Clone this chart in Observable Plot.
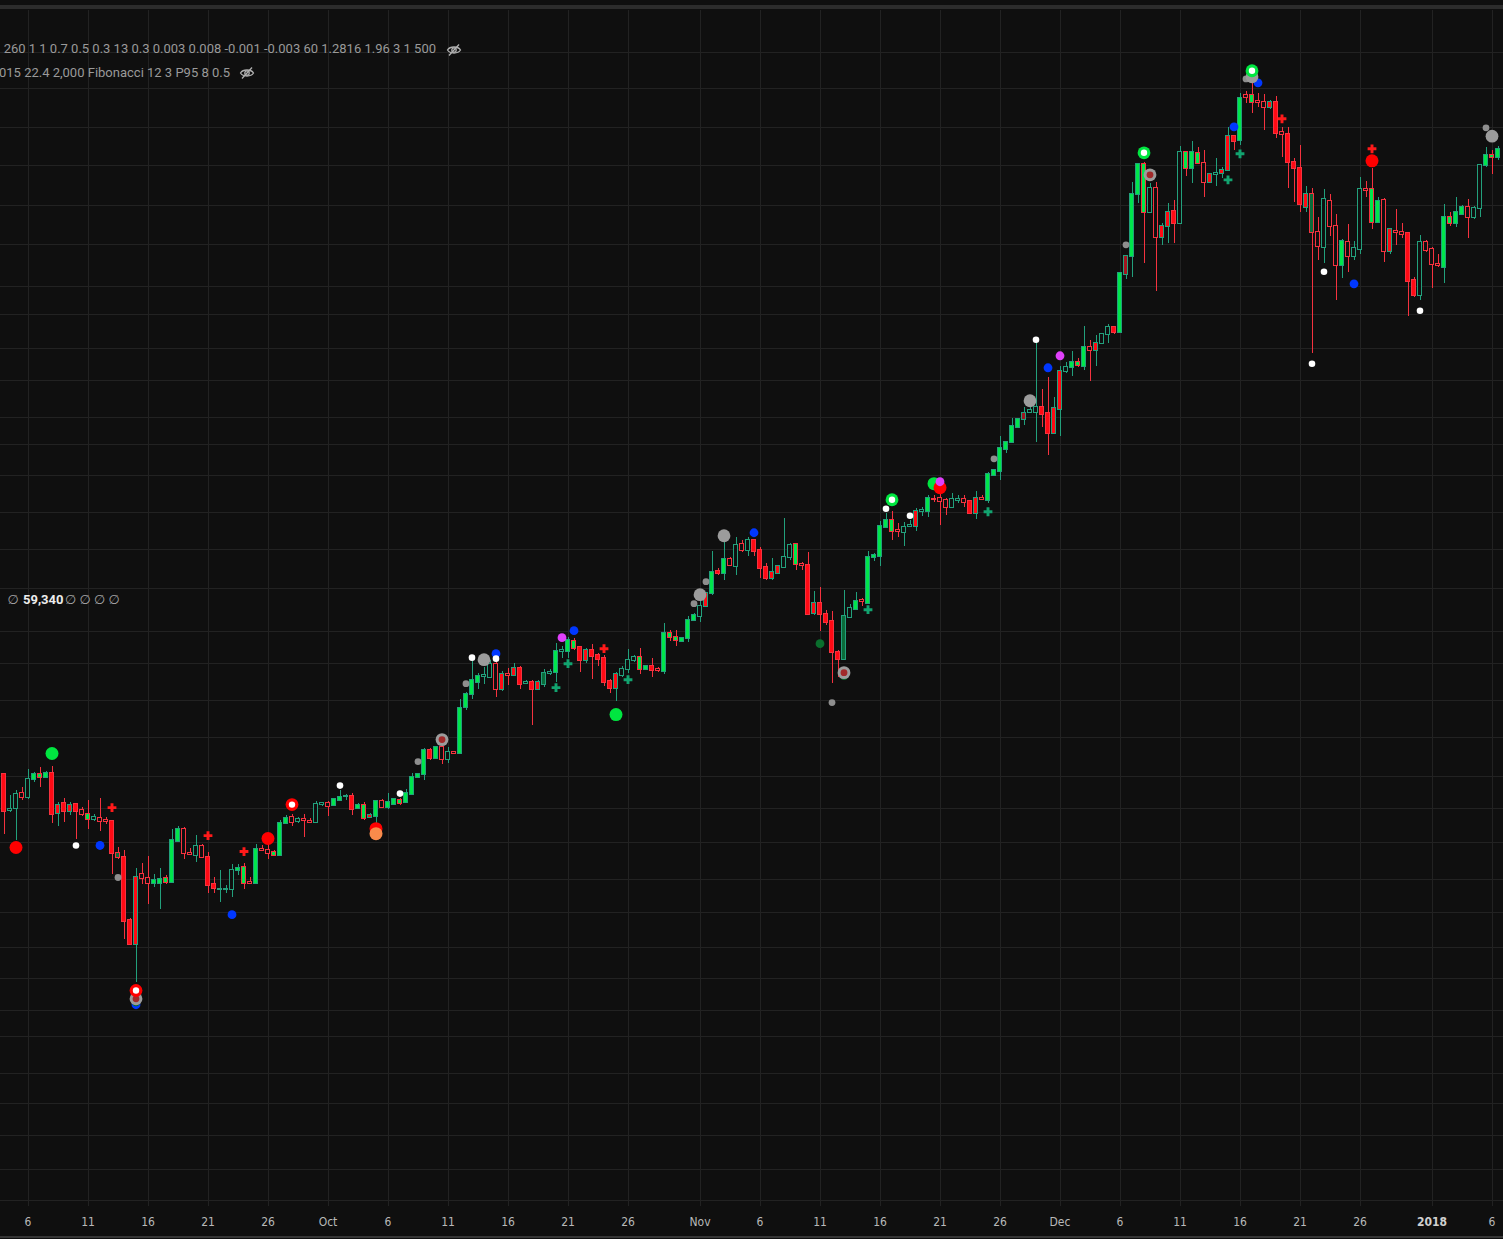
<!DOCTYPE html>
<html>
<head>
<meta charset="utf-8">
<script src="https://cdn.jsdelivr.net/npm/d3@7"></script>
<script src="https://cdn.jsdelivr.net/npm/@observablehq/plot@0.6"></script>
<style>
  html, body { margin: 0; padding: 0; background: #0f0f0f; }
  #wrap { position: relative; width: 1503px; height: 1239px; overflow: hidden; background: #0f0f0f; }
  #chart { position: absolute; left: 0; top: 0; }
  .sep-top { position: absolute; left: 0; top: 5px; width: 1503px; height: 4px; background: #2c2c2c; }
  .sep-bot { position: absolute; left: 0; top: 1236px; width: 1503px; height: 2px; background: #353535; }
  .leg { position: absolute; font-family: Roboto, "Noto Sans", sans-serif; font-size: 13px; color: #9a9a9a; white-space: pre; line-height: 16px; }
  .legr { text-align: right; }
  .val { position: absolute; font-family: Roboto, "Noto Sans", sans-serif; font-size: 13px; color: #a6a6a6; white-space: pre; line-height: 16px; }
  .val b { color: #ececec; font-weight: 700; }
  .na { display: inline-block; width: 14.5px; text-align: center; font-family: "DejaVu Sans", sans-serif; font-size: 13px; color: #a6a6a6; }
  .eye { position: absolute; width: 16px; height: 14px; }
</style>
</head>
<body>
<div id="wrap">
  <div id="chart"></div>
  <div class="sep-top"></div>
  <div class="sep-bot"></div>
</div>
<script>
// ---------------- data ----------------
// 12-hour candles starting 2017-09-04 00:00 UTC
const startUTC = Date.UTC(2017, 8, 4);
const open = [
4620,4280,4300,4437,4400,4570,4618,4589,4628,4252,
4343,4270,4334,4279,4243,4198,4207,4189,4180,3907,
3874,3389,3221,3736,3705,3666,3666,3705,3674,4007,
4111,3907,3890,3965,3874,3658,3618,3618,3620,3769,
3793,3674,3666,3940,3932,3915,3890,4163,4216,4180,
4198,4180,4172,4334,4343,4324,4371,4405,4408,4297,
4324,4216,4225,4362,4306,4334,4371,4352,4427,4589,
4618,4860,4778,4891,4768,4839,4829,5323,5472,5613,
5685,5673,5831,5530,5709,5697,5782,5600,5613,5530,
5589,5721,5733,5994,5994,6122,6045,5880,6006,5943,
5905,5625,5542,5697,5770,5880,5918,5770,5806,5770,
5745,6227,6174,6122,6161,6400,6455,6594,6778,7101,
7071,7284,7177,7520,7425,7583,7425,7162,6996,7071,
7162,7315,7520,7207,7192,6496,6636,6483,6387,5981,
5893,6441,6552,6678,6636,7315,7331,7796,7912,7746,
7713,7812,7812,8075,8065,8280,8290,8255,8133,8255,
8272,8237,8030,8290,8255,8703,8778,9196,9334,9636,
9800,9950,9947,10053,9926,9514,10011,10850,10942,11059,
10966,11416,11344,11514,11735,11911,11785,13327,13846,15791,
16829,15200,15993,14415,14755,15233,14849,17262,16686,17225,
16864,16198,16476,16511,16616,17858,17707,19481,19481,19235,
19193,18990,19193,18010,17934,16900,16686,15362,15791,14569,
14113,15558,14755,13584,14263,13846,14053,15959,15959,14881,
15591,13994,14600,14569,14538,13159,12748,14263,14053,13613,
13527,15040,14849,15136,15362,15040,15330,16793,17153,17080
];
const high = [
4630,4420,4465,4493,4668,4638,4688,4648,4698,4352,
4390,4352,4340,4306,4371,4243,4390,4216,4189,3957,
3932,3403,3785,3825,3882,3736,3785,3728,4111,4137,
4128,3948,4058,3982,3915,3712,3769,3651,3817,3817,
3825,3712,3982,3974,3982,3932,4189,4234,4243,4216,
4243,4207,4362,4345,4362,4390,4465,4427,4437,4343,
4352,4252,4371,4380,4437,4390,4390,4474,4628,4628,
4880,4880,4901,4922,4891,4850,5414,5495,5868,5721,
5794,5880,5880,5745,5782,5844,5806,5637,5637,5637,
5770,5770,6096,6057,6174,6161,6057,6032,6083,5968,
5943,5649,5733,5806,6019,5943,6032,5819,5905,5794,
6360,6267,6267,6174,6455,6496,6678,6785,7409,7147,
7552,7315,7632,7583,7632,7599,7472,7223,7300,7192,
7945,7536,7536,7238,7393,6807,6865,6538,6524,6006,
6821,6622,6792,6707,7409,7377,7895,8030,8065,7862,
7879,7912,8116,8133,8343,8343,8396,8290,8378,8343,
8343,8240,8414,8343,8759,8815,9453,9354,9821,9821,
10053,10053,11611,10444,10713,10269,10966,11059,11320,11153,
11936,11587,11710,11740,11987,11920,13360,13875,16198,16840,
16900,16164,16198,14849,15493,15591,17483,17270,17670,17446,
17335,16511,17044,16722,18202,17860,19563,19647,19983,19563,
19522,19275,19439,18202,18202,17044,17520,16061,15993,15040,
15959,15791,15136,14354,14818,14294,16371,16233,16686,15691,
15658,14693,15297,14849,14540,13243,14477,14324,14113,13905,
15460,15200,15691,15428,15624,15395,16800,17446,17335,17483
];
const low = [
4070,4260,4015,4371,4380,4541,4493,4579,4163,4137,
4172,4234,4024,4225,4111,4180,4093,4154,3736,3857,
3255,3215,2972,3658,3506,3635,3469,3658,3674,4007,
3857,3890,3833,3866,3589,3589,3521,3589,3559,3728,
3620,3660,3660,3923,3857,3885,3885,4160,4137,4163,
4041,4163,4170,4315,4225,4315,4371,4371,4234,4288,
4189,4207,4146,4300,4288,4334,4324,4343,4418,4579,
4560,4758,4768,4718,4728,4819,4825,5290,5414,5530,
5589,5670,5437,5507,5577,5690,5530,5589,5124,5519,
5554,5697,5613,5905,5905,6006,5733,5844,5649,5806,
5566,5483,5391,5673,5721,5856,5709,5757,5673,5733,
5709,6122,6057,6109,6109,6387,6374,6590,6749,7041,
6967,7177,7041,7393,7331,7331,6996,6967,6967,7056,
7147,7269,7116,7116,6469,6469,6254,6334,5601,5673,
5880,6430,6538,6594,6636,7253,7177,7790,7583,7632,
7488,7796,7730,7979,7962,8220,7829,7996,8116,8203,
8133,8025,7928,8265,8203,8685,8612,9120,9330,9616,
9677,9926,9334,9636,9081,9500,9453,10804,10736,10942,
10873,10622,10966,11510,11514,11735,11780,13187,13243,15493,
13642,15190,12855,14173,14233,14233,14840,16406,16164,16860,
15691,16190,16061,16337,16610,17335,17520,19152,18751,18990,
18087,18910,17782,17080,15993,15526,15200,15200,11272,13729,
13642,14446,12613,13215,13384,13729,13905,15691,14662,14849,
13671,13905,14173,14385,12192,12694,12613,13964,12937,13527,
13075,14755,14724,15104,14385,14976,15040,16722,16476,16972
];
const close = [
4270,4290,4430,4400,4570,4618,4589,4628,4243,4324,
4270,4324,4270,4243,4198,4216,4180,4180,3907,3874,
3382,3221,3712,3705,3666,3689,3697,3674,4015,4111,
3907,3895,3965,3874,3651,3628,3622,3622,3769,3785,
3666,3666,3940,3932,3907,3890,4163,4207,4172,4198,
4189,4172,4334,4343,4315,4380,4400,4410,4288,4324,
4207,4234,4362,4306,4352,4380,4343,4437,4589,4618,
4860,4778,4891,4768,4839,4829,5312,5472,5637,5685,
5697,5831,5530,5709,5697,5782,5589,5613,5530,5613,
5721,5733,5994,6006,6135,6032,5880,6006,5930,5893,
5613,5542,5709,5770,5880,5918,5770,5806,5757,5757,
6227,6174,6135,6161,6400,6469,6594,6778,7086,7071,
7284,7192,7504,7425,7583,7409,7147,6996,7086,7177,
7315,7504,7207,7192,6483,6636,6483,6374,5981,5893,
6455,6566,6664,6664,7315,7346,7812,7912,7730,7730,
7796,7829,8065,8085,8290,8272,8237,8133,8272,8272,
8220,8030,8290,8272,8722,8797,9216,9334,9657,9800,
9926,9989,10053,9905,9514,10032,10850,10942,11059,10989,
11416,11344,11514,11735,11911,11785,13356,13846,15791,16829,
15200,15993,14415,14755,15200,14849,17262,16686,17262,16864,
16198,16476,16511,16616,17858,17670,19357,19398,19193,19193,
18990,19193,17972,17934,16900,16686,15460,15791,14569,14142,
15624,14755,13584,14294,13846,14083,15959,15926,14881,15558,
13994,14662,14569,14507,13131,12748,14263,14023,13613,13584,
15040,14849,15200,15362,15040,15330,16793,17153,17080,17372
];
// body fill per candle: G bright green, R red, g dark green, x dark red, n hollow
const bodyFill = (
"RnnnnGGGRR" + "RRRnGnnnRg" + "RRRnnGGGGG" + "nnnnRRnnnG" + "GnGnnGGGnn" +
"nnnnnGGnRG" + "GRGnGGGGGG" + "GRGnnnGGGG" + "nnnRnRRnRR" + "gnGnGGRRRR" +
"RRRnnnGGRn" + "GGGGGGnRGR" + "GnnnnRRRRR" + "nnGnRRRRRR" + "gnGnGGGGGn" +
"nnRnGnnnnn" + "nRRnGGGGGG" + "xnnRRRRnGG" + "GnRnnRGxGG" + "GnnRRRnGGG" +
"nRnRRRGnGn" + "nRRnRRRRgn" + "nnnGnnnnGG" + "nRnnRRnnnn" + "GGGGnnnGGG").split("");

// indicator markers: candle index, price level, kind
const markerIndex = [8,102,155, 2,44,62,156,228, 62,
  12,56,66,78,82,147,151,172,218,220,236,
  16,22,38,82,95,125,174,205,209,225,
  19,69,77,115,117,138,165,187,207,247,
  80,116,120,171,208,248, 93,156,176, 22,136,140, 22,48, 148,190,208, 22,73,140,191,
  18,34,40,100,213,228, 92,94,104,144,164,204,206];
const markerPrice = [4830,5245,8558, 3957,4033,4118,8486,16970, 4075,
  3974,4512,4436,5918,5906,8115,7996,11612,11036,13412,12348,
  3974,2835,3432,5968,6266,7713,10943,18240,20025,13075,
  3713,4748,5601,6636,6953,5380,9022,14203,20190,18200,
  5893,6764,7664,10204,20280,17880, 6174,8594,11225, 2853,6096,5697, 2922,4334, 8272,17262,20542, 2871,4974,5733,16475,
  4306,4058,3923,6032,18552,17410, 5554,5843,5648,6552,8064,16300,17225];
const markerKind = [
  "bigGreen","bigGreen","bigGreen",
  "bigRed","bigRed","bigRed","bigRed","bigRed",
  "orange",
  "white","white","white","white","white","white","white","white","white","white","white",
  "blue","blue","blue","blue","blue","blue","blue","blue","blue","blue",
  "gray","gray","gray","gray","gray","gray","gray","gray","gray","gray",
  "grayBig","grayBig","grayBig","grayBig","grayBig","grayBig",
  "magenta","magenta","magenta",
  "darkGreen","darkGreen","darkGreen",
  "ringRed","ringRed",
  "ringGreen","ringGreen","ringGreen",
  "ringGray","ringGray","ringGray","ringGray",
  "redCross","redCross","redCross","redCross","redCross","redCross",
  "greenCross","greenCross","greenCross","greenCross","greenCross","greenCross","greenCross"];

// horizontal grid (price levels) and time ticks
const gridPrices = [1870,2000,2150,2300,2450,2650,2800,3000,3200,3450,3700,4000,4300,4600,5000,5400,5850,6250,6850,7450,8050,8700,9300,9850,10650,11400,12250,13000,14200,15450,16800,18200,19800,21350];
const tickDates = ["2017-09-06","2017-09-11","2017-09-16","2017-09-21","2017-09-26","2017-10-01","2017-10-06","2017-10-11","2017-10-16","2017-10-21","2017-10-26","2017-11-01","2017-11-06","2017-11-11","2017-11-16","2017-11-21","2017-11-26","2017-12-01","2017-12-06","2017-12-11","2017-12-16","2017-12-21","2017-12-26","2018-01-01","2018-01-06"];
const tickLabels = ["6","11","16","21","26","Oct","6","11","16","21","26","Nov","6","11","16","21","26","Dec","6","11","16","21","26","2018","6"];

// ---------------- styles ----------------
const BG = "#0f0f0f", GRID = "#222222", UP = "#22a07c", DN = "#f5323f";
const FILL = {G: "#00e64b", R: "#ff0a14", g: "#0b6b3a", x: "#a3141f", n: BG};
const KIND = {
  blue: {r: 4.4, fill: "#0037ff"},
  darkGreen: {r: 4.4, fill: "#0a6e2d"},
  gray: {r: 3.4, fill: "#8e8e8e"},
  grayBig: {r: 6.4, fill: "#9c9c9c"},
  white: {r: 3.3, fill: "#ffffff"},
  bigGreen: {r: 6.5, fill: "#00e640"},
  bigRed: {r: 6.5, fill: "#ff0000"},
  orange: {r: 6.5, fill: "#f98b4b"},
  magenta: {r: 4.4, fill: "#e040fb"},
  ringGray: {r: 6.4, fill: "#9c9c9c", inner: "#a12a2a", ir: 3.4},
  ringRed: {r: 6.4, fill: "#ff0000", inner: "#ffffff", ir: 3.2},
  ringGreen: {r: 6.4, fill: "#00e640", inner: "#ffffff", ir: 3.2},
  redCross: {r: 3.7, fill: "#ff1a1a", symbol: "cross"},
  greenCross: {r: 3.7, fill: "#12a36f", symbol: "cross"}
};
const ORDER = ["blue","darkGreen","gray","grayBig","white","bigGreen","bigRed","orange","magenta","ringGray","ringRed","ringGreen","redCross","greenCross"];

// ---------------- build ----------------
const H = 3600 * 1000;
const candles = open.map((o, i) => ({
  t: new Date(startUTC + i * 12 * H), o, h: high[i], l: low[i], c: close[i], f: bodyFill[i] || "n"
}));
const markers = markerIndex.map((idx, i) => ({t: new Date(startUTC + idx * 12 * H), p: markerPrice[i], k: markerKind[i]}));
const ticks = tickDates.map((d, i) => ({d: new Date(d + "T00:00:00Z"), s: tickLabels[i], bold: /^\d{4}$/.test(tickLabels[i])}));

const dirColor = d => (d.c >= d.o ? UP : DN);
const marks = [
  Plot.ruleY(gridPrices, {stroke: GRID, strokeWidth: 1, shapeRendering: "crispEdges"}),
  Plot.ruleX(ticks, {x: "d", stroke: GRID, strokeWidth: 1, shapeRendering: "crispEdges"}),
  Plot.ruleX(candles, {x: "t", y1: "l", y2: "h", stroke: dirColor, strokeWidth: 1, shapeRendering: "crispEdges"}),
  Plot.rect(candles, {
    x1: d => new Date(+d.t - 4 * H), x2: d => new Date(+d.t + 4 * H),
    y1: "o", y2: "c", fill: d => FILL[d.f], stroke: dirColor, strokeWidth: 1,
    insetTop: -0.5, insetBottom: -0.5, shapeRendering: "crispEdges"
  })
];
for (const k of ORDER) {
  const s = KIND[k];
  const data = markers.filter(m => m.k === k);
  marks.push(Plot.dot(data, {x: "t", y: "p", r: s.r, fill: s.fill, stroke: "none", symbol: s.symbol || "circle"}));
  if (s.inner) marks.push(Plot.dot(data, {x: "t", y: "p", r: s.ir, fill: s.inner, stroke: "none"}));
}
const axisFont = "'Liberation Sans Narrow', 'DejaVu Sans Condensed', 'Roboto Condensed', Roboto, sans-serif";
marks.push(Plot.text(ticks.filter(d => !d.bold), {x: "d", text: "s", frameAnchor: "bottom", dy: 16, lineAnchor: "middle", fill: "#b8b8b8", fontSize: 12, fontFamily: axisFont}));
marks.push(Plot.text(ticks.filter(d => d.bold), {x: "d", text: "s", frameAnchor: "bottom", dy: 16, lineAnchor: "middle", fill: "#d0d0d0", fontSize: 12, fontWeight: "bold", fontFamily: axisFont}));

const chart = Plot.plot({
  width: 1503, height: 1239,
  marginTop: 10, marginBottom: 33, marginLeft: 0, marginRight: 0,
  style: {background: "transparent", overflow: "visible"},
  x: {type: "utc", domain: [new Date(startUTC - 7 * H), new Date(startUTC + 2999 * H)], axis: null},
  y: {type: "log", domain: [1848.3, 23342], axis: null},
  color: {type: "identity"},
  marks
});
document.getElementById("chart").appendChild(chart);

// ---------------- legend overlays ----------------
const wrap = document.getElementById("wrap");
function addDiv(cls, css, html) {
  const d = document.createElement("div");
  d.className = cls; d.style.cssText = css; d.innerHTML = html; wrap.appendChild(d); return d;
}
const eyeSVG = '<svg width="16" height="14" viewBox="0 0 16 14"><path d="M1.5 7 C4 3, 12 3, 14.5 7 C12 11, 4 11, 1.5 7 Z" fill="none" stroke="#b0b0b0" stroke-width="1.3"/><circle cx="8" cy="7" r="2.2" fill="none" stroke="#b0b0b0" stroke-width="1.3"/><line x1="3" y1="12.5" x2="13" y2="1.5" stroke="#b0b0b0" stroke-width="1.3"/></svg>';
addDiv("leg legr", "right:" + (1503 - 436) + "px; top:41px;", "260 1 1 0.7 0.5 0.3 13 0.3 0.003 0.008 -0.001 -0.003 60 1.2816 1.96 3 1 500");
addDiv("eye", "left:446px; top:43px;", eyeSVG);
addDiv("leg legr", "right:" + (1503 - 230) + "px; top:65px;", "015 22.4 2,000 Fibonacci 12 3 P95 8 0.5");
addDiv("eye", "left:239px; top:66px;", eyeSVG);
const NA = '<span class="na">\u2205</span>';
addDiv("val", "left:6px; top:592px;", NA);
addDiv("val", "left:23px; top:592px;", "<b>59,340</b>" + NA + NA + NA + NA);
</script>
</body>
</html>
